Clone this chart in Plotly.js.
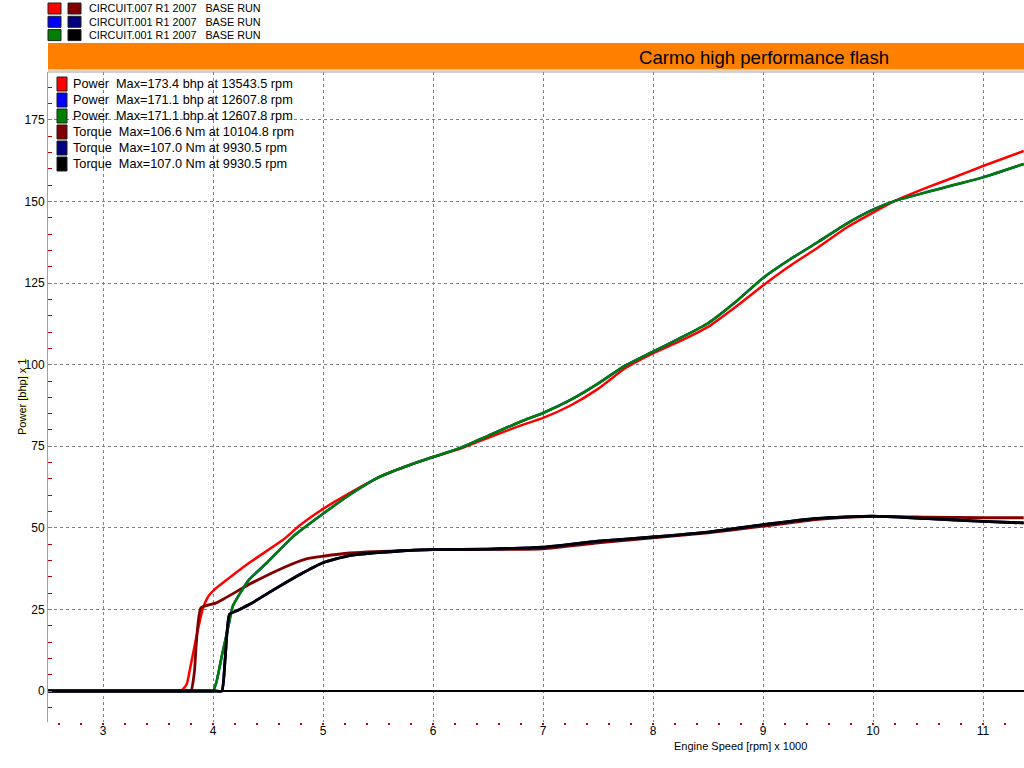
<!DOCTYPE html>
<html>
<head>
<meta charset="utf-8">
<script src="https://cdn.plot.ly/plotly-3.0.1.min.js"></script>
<style>
html,body{margin:0;padding:0;background:#fff;}
#chart{width:1024px;height:768px;}
</style>
</head>
<body>
<div id="chart"></div>
<script>
// ---- data (Engine speed in rpm x 1000, values as plotted on the bhp axis) ----
const rpmPower007 = [2.5, 3.5, 3.65, 3.71, 3.76, 3.79, 3.85, 3.91, 3.96, 4.02, 4.33, 4.64, 4.79, 5.0, 5.25, 5.5, 5.75, 6.0, 6.25, 6.5, 6.8, 7.0, 7.25, 7.5, 7.75, 8.0, 8.25, 8.5, 8.75, 9.0, 9.25, 9.5, 9.75, 10.0, 10.2, 10.5, 10.75, 11.0, 11.37];
const power007    = [0, 0, 0, 0, 2.0, 6.6, 16.8, 25.5, 29.1, 31.3, 39.3, 46.4, 50.8, 55.8, 60.8, 65.4, 68.8, 71.7, 74.3, 77.6, 81.4, 83.7, 87.5, 92.6, 99.0, 103.5, 107.3, 111.6, 117.7, 124.3, 130.4, 135.9, 141.8, 146.6, 150.2, 154.4, 157.6, 160.9, 165.5];

const rpmPower001 = [2.5, 3.8, 3.95, 4.0, 4.03, 4.08, 4.14, 4.18, 4.24, 4.33, 4.49, 4.73, 5.0, 5.25, 5.5, 5.75, 6.0, 6.25, 6.5, 6.8, 7.0, 7.25, 7.5, 7.75, 8.0, 8.25, 8.5, 8.75, 9.0, 9.25, 9.5, 9.75, 10.0, 10.2, 10.5, 10.75, 11.0, 11.37];
const power001    = [0, 0, 0, 0, 2.6, 10.7, 19.9, 26.0, 29.6, 34.2, 39.3, 47.4, 54.3, 60.3, 65.4, 68.8, 71.7, 74.5, 78.2, 82.6, 85.2, 89.2, 94.2, 99.8, 104.0, 108.2, 112.7, 119.2, 126.6, 132.4, 137.6, 143.0, 147.5, 150.2, 153.0, 155.2, 157.4, 161.5];

const rpmTorque007 = [2.5, 3.6, 3.75, 3.8, 3.83, 3.89, 4.03, 4.33, 4.64, 4.85, 5.0, 5.24, 5.7, 6.0, 6.5, 7.0, 7.5, 8.0, 8.5, 9.0, 9.5, 10.0, 10.5, 11.0, 11.37];
const torque007    = [0, 0, 0, 0, 5.6, 25.5, 27.0, 32.7, 37.8, 40.5, 41.3, 42.3, 43.0, 43.3, 43.4, 43.6, 45.4, 46.9, 48.5, 50.5, 52.6, 53.5, 53.3, 53.1, 53.1];

const rpmTorque001 = [2.5, 3.85, 4.02, 4.08, 4.11, 4.15, 4.21, 4.33, 4.58, 4.79, 5.0, 5.24, 5.7, 6.0, 6.5, 7.0, 7.5, 8.0, 8.5, 9.0, 9.5, 10.0, 10.5, 11.0, 11.37];
const torque001    = [0, 0, 0, 0, 9.7, 23.5, 24.5, 26.5, 31.6, 35.7, 39.3, 41.5, 42.9, 43.3, 43.5, 44.1, 45.9, 47.2, 48.7, 51.0, 52.9, 53.6, 52.8, 52.0, 51.5];

const runLabels = ["CIRCUIT.007 R1 2007   BASE RUN", "CIRCUIT.001 R1 2007   BASE RUN", "CIRCUIT.001 R1 2007   BASE RUN"];
const runColors = [["#ff0000", "#800000"], ["#0000ff", "#000080"], ["#008000", "#000000"]];
const maxLabels = [
  "Power  Max=173.4 bhp at 13543.5 rpm",
  "Power  Max=171.1 bhp at 12607.8 rpm",
  "Power  Max=171.1 bhp at 12607.8 rpm",
  "Torque  Max=106.6 Nm at 10104.8 rpm",
  "Torque  Max=107.0 Nm at 9930.5 rpm",
  "Torque  Max=107.0 Nm at 9930.5 rpm"
];
const maxColors = ["#ff0000", "#0000ff", "#008000", "#800000", "#000080", "#000000"];
const chartTitle = "Carmo high performance flash";
const xTitle = "Engine Speed [rpm] x 1000";
const yTitle = "Power [bhp] x 1";
const yTicks = [0, 25, 50, 75, 100, 125, 150, 175];
const xTicks = [3, 4, 5, 6, 7, 8, 9, 10, 11];

// ---- geometry helpers (pixel -> paper) ----
const W = 1024, H = 768;
const M = {l: 48, r: 0, t: 72, b: 46};
const PW = W - M.l - M.r, PH = H - M.t - M.b;
const px = x => (x - M.l) / PW;
const py = y => (H - M.b - y) / PH;
const FONT = "Liberation Sans, Arial, sans-serif";

function tr(x, y, color, width) {
  return {x: x, y: y, type: "scatter", mode: "lines",
          line: {color: color, width: width, shape: "spline", smoothing: 0.5}, hoverinfo: "skip"};
}
const traces = [
  tr(rpmPower007, power007, "#ff0000", 2.5),
  tr(rpmTorque007, torque007, "#800000", 2.8),
  tr(rpmPower001, power001, "#0000ff", 2.5),
  tr(rpmTorque001, torque001, "#000080", 2.8),
  tr(rpmPower001, power001, "#008000", 2.5),
  tr(rpmTorque001, torque001, "#000000", 2.8)
];

const shapes = [];
const annotations = [];

// orange title bar
shapes.push({type: "rect", xref: "paper", yref: "paper", x0: px(48), x1: px(1024), y0: py(69), y1: py(43),
             fillcolor: "#ff8000", line: {width: 0}, layer: "above"});
shapes.push({type: "line", xref: "paper", yref: "paper", x0: px(48), x1: px(1024), y0: py(70), y1: py(70),
             line: {color: "#c8a070", width: 1}});
shapes.push({type: "line", xref: "paper", yref: "paper", x0: px(48), x1: px(1024), y0: py(72), y1: py(72),
             line: {color: "#a0a0a0", width: 1}});
annotations.push({xref: "paper", yref: "paper", x: px(764), y: py(57), text: chartTitle, showarrow: false,
                  xanchor: "center", yanchor: "middle", font: {family: FONT, size: 18.6, color: "#000"}});

// top run legend
runLabels.forEach((lab, i) => {
  const cy = 8.5 + i * 13.3;
  runColors[i].forEach((c, j) => {
    const x0 = 48 + j * 20;
    shapes.push({type: "rect", xref: "paper", yref: "paper", x0: px(x0), x1: px(x0 + 13), y0: py(cy + 5.5), y1: py(cy - 5.5),
                 fillcolor: c, line: {color: "#202020", width: 1}});
  });
  annotations.push({xref: "paper", yref: "paper", x: px(87), y: py(cy), text: lab, showarrow: false,
                    xanchor: "left", yanchor: "middle", font: {family: FONT, size: 10.8, color: "#000"}});
});

// in-plot max legend
maxLabels.forEach((lab, i) => {
  const cy = 84 + i * 16;
  shapes.push({type: "rect", xref: "paper", yref: "paper", x0: px(57), x1: px(67), y0: py(cy + 7), y1: py(cy - 7),
               fillcolor: maxColors[i], line: {color: "#202020", width: 1}});
  annotations.push({xref: "paper", yref: "paper", x: px(71), y: py(cy), text: lab, showarrow: false,
                    xanchor: "left", yanchor: "middle", font: {family: FONT, size: 12.7, color: "#000"}});
});

// axis titles
annotations.push({xref: "paper", yref: "paper", x: px(740), y: py(746), text: xTitle, showarrow: false,
                  xanchor: "center", yanchor: "middle", font: {family: FONT, size: 11, color: "#000"}});
annotations.push({xref: "paper", yref: "paper", x: px(22), y: py(397), text: yTitle, showarrow: false, textangle: -90,
                  xanchor: "center", yanchor: "middle",
                  font: {family: FONT, size: 11, color: "#000", shadow: "1px 1px 1px #ffff60"}});

const layout = {
  width: W, height: H,
  margin: M,
  paper_bgcolor: "#ffffff", plot_bgcolor: "#ffffff",
  showlegend: false,
  font: {family: FONT, size: 12, color: "#000"},
  xaxis: {
    range: [2.5, 2.5 + PW / 110], tickvals: xTicks, ticktext: xTicks.map(String),
    showgrid: true, gridcolor: "#808080", griddash: "3px,3px", gridwidth: 1,
    zeroline: false, showline: false,
    ticks: "", ticklen: 0,
    tickfont: {family: FONT, size: 12, color: "#000"},
    minor: {dtick: 0.2, tick0: 0, ticks: "outside", ticklen: 2, tickwidth: 2, tickcolor: "#c00000", showgrid: false},
    fixedrange: true
  },
  yaxis: {
    range: [-(PH - 691 + M.t) / 3.263, 619 / 3.263], tickvals: yTicks, ticktext: yTicks.map(String),
    showgrid: true, gridcolor: "#808080", griddash: "3px,3px", gridwidth: 1,
    zeroline: true, zerolinecolor: "#000000", zerolinewidth: 1.5,
    showline: true, linecolor: "#a0a0a0", linewidth: 1,
    ticks: "inside", ticklen: 4, tickcolor: "#808080",
    tickfont: {family: FONT, size: 12, color: "#000"},
    minor: {dtick: 5, tick0: 0, ticks: "inside", ticklen: 4, tickcolor: "#c00000", showgrid: false},
    fixedrange: true
  },
  shapes: shapes,
  annotations: annotations
};

Plotly.newPlot("chart", traces, layout, {staticPlot: true, displayModeBar: false});
</script>
</body>
</html>
